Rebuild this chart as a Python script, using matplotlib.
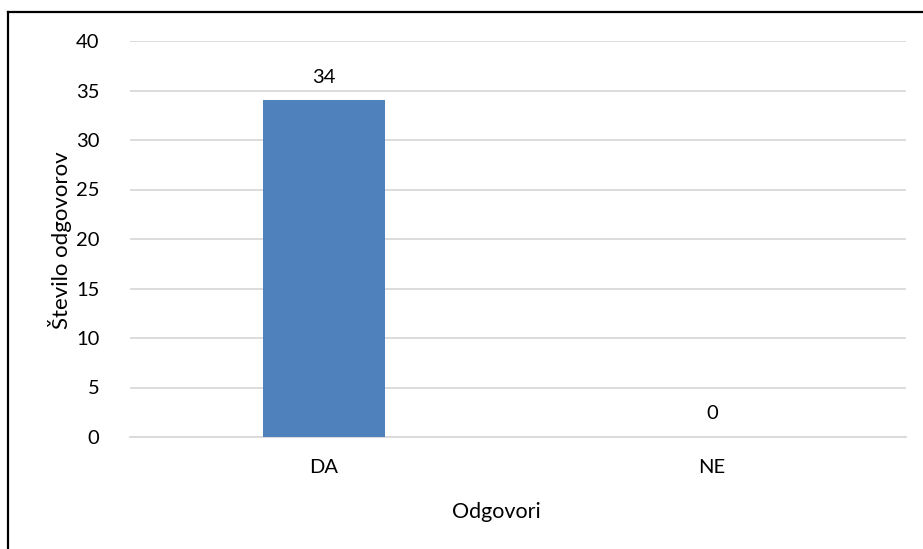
import matplotlib.pyplot as plt
from matplotlib.lines import Line2D

categories = ['DA', 'NE']
counts = [34, 0]

W, H = 923, 549
plt.rcParams['font.family'] = ['Lato', 'DejaVu Sans']

fig = plt.figure(figsize=(W / 100, H / 100), dpi=100)
# plot area in pixel terms
left, right, top, bottom = 130, 906, 41, 437
ax = fig.add_axes([left / W, 1 - bottom / H, (right - left) / W, (bottom - top) / H])

bar_color = '#4F81BD'
ax.bar(range(len(categories)), counts, width=0.315, color=bar_color, zorder=3)
for i, v in enumerate(counts):
    ax.text(i, v + 1.5, str(v), ha='center', va='bottom', fontsize=14.5, color='#000000')

ax.set_xlim(-0.5, len(categories) - 0.5)
ax.set_ylim(0, 40)
ax.set_yticks(range(0, 41, 5))
ax.set_xticks(range(len(categories)))
ax.set_xticklabels(categories)
ax.yaxis.grid(True, color='#d9d9d9', linewidth=1.3, zorder=0)
ax.set_axisbelow(True)
for s in ['top', 'right', 'left']:
    ax.spines[s].set_visible(False)
ax.spines['bottom'].set_color('#d9d9d9')
ax.spines['bottom'].set_linewidth(1.3)
ax.tick_params(axis='both', length=0, labelsize=14.5, colors='#000000')
ax.tick_params(axis='x', pad=16)
ax.tick_params(axis='y', pad=22)

fig.text(496 / W, 1 - 512 / H, 'Odgovori', ha='center', va='center', fontsize=15.5)
fig.text(60 / W, 1 - 240 / H, 'Število odgovorov', ha='center', va='center',
         rotation=90, fontsize=16)

# outer frame (left and top edges only visible)
fig.add_artist(Line2D([8 / W, 8 / W], [0, 1 - 11.5 / H], transform=fig.transFigure,
                      color='black', linewidth=1.6))
fig.add_artist(Line2D([8 / W, 1], [1 - 11.5 / H, 1 - 11.5 / H], transform=fig.transFigure,
                      color='black', linewidth=1.6))

fig.savefig('out.png', dpi=100)
